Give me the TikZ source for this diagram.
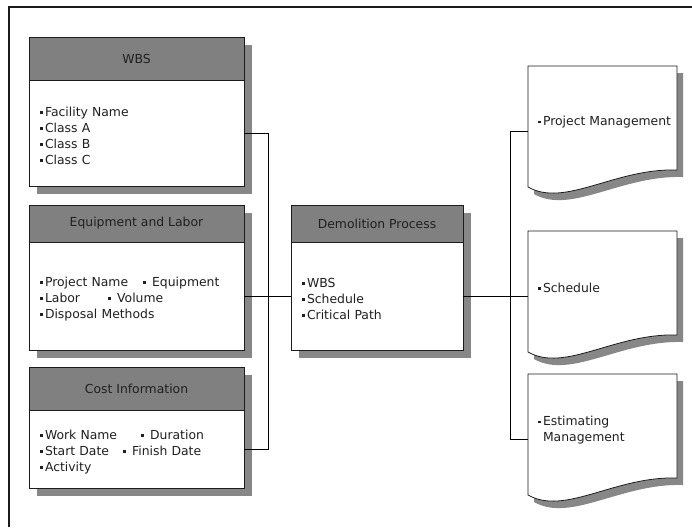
\documentclass[tikz,border=0pt]{standalone}
\usepackage{fontspec}
\setmainfont{DejaVu Sans}
\usetikzlibrary{calc}

\definecolor{hdrgray}{HTML}{808080}
\definecolor{shadegray}{HTML}{878787}
\definecolor{edge}{HTML}{1C1C1C}
\definecolor{ink}{HTML}{202020}

% small square bullet
\newcommand\bul{\rule[2.6pt]{2.6pt}{2.6pt}\hspace{2.4pt}}
% pushes the first line of a panel body a little lower
\newcommand\firstline{\rule{0pt}{15pt}}

% panel: name, x, y, width, header height, body height, title, body text
\newcommand\panel[8]{%
  \fill[shadegray] (#2+8,#3+8) rectangle (#2+#4+8,#3+#5+#6+8);
  \node[hdrbox, minimum width=#4, minimum height=#5, anchor=north west]
    (#1-h) at (#2,#3) {#7};
  \node[bodybox, minimum width=#4, minimum height=#6, text width=#4-22,
    anchor=north] (#1) at (#1-h.south) {\firstline#8};
}

% document outline with a wavy bottom, shifted by (dx,dy)
\newcommand\docpath[3]{($(#1.north west)+(#2,#3)$) -- ($(#1.north east)+(#2,#3)$)
  -- ($(#1.north east)+(#2,104+#3)$)
  .. controls ($(#1.north east)+(#2-62,102+#3)$) and ($(#1.north west)+(#2+37,142+#3)$)
  .. ($(#1.north west)+(#2,121+#3)$) -- cycle}

\newcommand\docsheet[3]{%
  \node[docbox] (#1) at (#2) {};
  \fill[shadegray] \docpath{#1}{6}{7};
  \filldraw[fill=white, draw=edge, line width=0.8pt] \docpath{#1}{0}{0};
  \node[doctext] (#1-t) at ($(#1.west)+(10,-8.5)$) {#3};
}

\begin{document}
\begin{tikzpicture}[x=1pt, y=-1pt,
  font=\fontsize{12.4}{16}\selectfont, text=ink,
  every node/.style={inner sep=0pt, outer sep=0pt},
  hdrbox/.style={draw=edge, fill=hdrgray, line width=0.8pt},
  bodybox/.style={draw=edge, fill=white, line width=0.8pt, align=left,
    inner xsep=11pt},
  docbox/.style={minimum width=149, minimum height=130},
  doctext/.style={anchor=west, align=left},
  conn/.style={draw=black, line width=0.8pt}]

\useasboundingbox (0,0) rectangle (692,527);
\fill[white] (0,0) rectangle (692,527);

% outer frame
\draw[edge, line width=1.2pt] (9,527) -- (9,7) -- (692,7);

% input panels
\panel{wbs}{29}{37}{215}{43}{106}{WBS}
  {\bul Facility Name\\\bul Class A\\\bul Class B\\\bul Class C}
\panel{equip}{29}{205}{215}{37}{108}{Equipment and Labor}
  {\makebox[103pt][l]{\bul Project Name}\bul\ Equipment\\
   \makebox[68pt][l]{\bul Labor}\bul\ Volume\\
   \bul Disposal Methods}
\panel{cost}{29}{367}{215}{43}{78}{Cost Information}
  {\makebox[101pt][l]{\bul Work Name}\bul\ Duration\\
   \makebox[83pt][l]{\bul Start Date}\bul\ Finish Date\\
   \bul Activity}

% central process
\panel{demo}{291}{205}{172}{37}{108}{Demolition Process}
  {\bul WBS\\\bul Schedule\\\bul Critical Path}

% output documents
\docsheet{pm}{602.5,131}{\bul Project Management}
\docsheet{sch}{602.5,296}{\bul Schedule}
\docsheet{est}{602.5,439}{\bul Estimating\\\phantom{\bul}Management}

% connectors
\coordinate (lbus) at (268,0);
\coordinate (rbus) at (510,0);
\draw[conn] (wbs.east) -| (lbus |- cost.east) -- (cost.east);
\draw[conn] (equip.east) -- (demo.west);
\draw[conn] (demo.east) -- (sch.west);
\draw[conn] (pm.west) -| (rbus |- est.west) -- (est.west);

\end{tikzpicture}
\end{document}
